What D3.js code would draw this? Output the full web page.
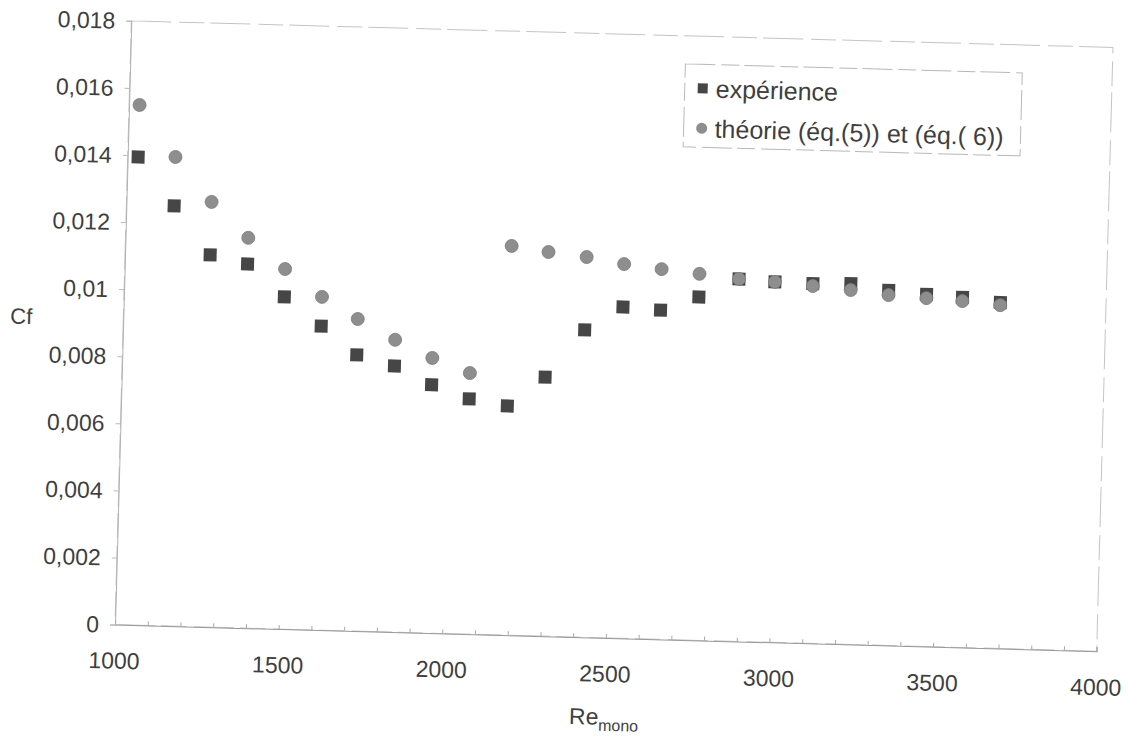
<!DOCTYPE html>
<html>
<head>
<meta charset="utf-8">
<script src="https://cdn.jsdelivr.net/npm/d3@7"></script>
<style>
  body { margin: 0; background: #fff; }
  text { font-family: "Liberation Sans", Arial, sans-serif; fill: #3f3f3f; }
</style>
</head>
<body>
<svg></svg>
<script>
// Re_mono values (x)
var reMono = [1032, 1146, 1260, 1375, 1490, 1605, 1716, 1832, 1947, 2063, 2180, 2293,
              2410, 2525, 2640, 2756, 2877, 2987, 3103, 3219, 3335, 3451, 3561, 3677];
// Cf, experience (squares)
var cfExp = [0.01395, 0.01252, 0.01109, 0.01085, 0.00990, 0.00906, 0.00823, 0.00793,
             0.00740, 0.00701, 0.00683, 0.00772, 0.00916, 0.00987, 0.00981, 0.01023,
             0.01080, 0.01074, 0.01072, 0.01075, 0.01058, 0.01049, 0.01043, 0.01031];
// Cf, theory eq.(5) / eq.(6) (circles)
var cfTheo = [0.01550, 0.01398, 0.01267, 0.01163, 0.01073, 0.00993, 0.00930, 0.00871,
              0.00820, 0.00778, 0.01160, 0.01145, 0.01133, 0.01115, 0.01103, 0.01092,
              0.01080, 0.01074, 0.01065, 0.01056, 0.01044, 0.01038, 0.01032, 0.01023];

var xTicks = [1000, 1500, 2000, 2500, 3000, 3500, 4000];
var yTicks = [0, 0.002, 0.004, 0.006, 0.008, 0.01, 0.012, 0.014, 0.016, 0.018];
var legendLabels = ['expérience', 'théorie (éq.(5)) et (éq.( 6))'];

document.addEventListener("DOMContentLoaded", function() {
    drawChart();
});

function drawChart() {
    var svgWidth = 1134, svgHeight = 741;
    var margin = { top: 34, left: 123 };
    var width = 982, height = 604;

    var svg = d3.select('svg')
        .attr('width', svgWidth)
        .attr('height', svgHeight);

    // the scanned page is slightly tilted
    var page = svg.append('g')
        .attr('transform', 'rotate(1.55, 614, 336)');

    var g = page.append('g')
        .attr('transform', 'translate(' + margin.left + ',' + margin.top + ')');

    var x = d3.scaleLinear().domain([1000, 4000]).range([0, width]);
    var y = d3.scaleLinear().domain([0, 0.018]).range([height, 0]);

    var fr = d3.formatLocale({decimal: ',', thousands: ' ', grouping: [3], currency: ['', '']});
    var fmt = fr.format('.3~f');

    // frame (faint, broken like the scan)
    g.append('rect')
        .attr('width', width).attr('height', height)
        .attr('fill', 'none')
        .attr('stroke', '#c4c4c4')
        .attr('stroke-width', 1)
        .attr('stroke-dasharray', '40,8,25,6');

    // x axis, minor ticks every 100
    var xAxis = g.append('g')
        .attr('transform', 'translate(0,' + height + ')')
        .call(d3.axisBottom(x).tickValues(d3.range(1000, 4001, 100)).tickSize(-4).tickFormat(''));
    xAxis.select('.domain').attr('stroke', '#999');
    xAxis.selectAll('.tick line').attr('stroke', '#aaa');

    g.append('g').selectAll('text')
        .data(xTicks)
        .join('text')
        .attr('x', function(d) { return x(d); })
        .attr('y', height + 44)
        .attr('text-anchor', 'middle')
        .attr('font-size', 23)
        .text(function(d) { return d; });

    // y axis
    var yAxis = g.append('g')
        .call(d3.axisLeft(y).tickValues(yTicks).tickSize(5).tickFormat(''));
    yAxis.select('.domain').attr('stroke', '#b0b0b0');
    yAxis.selectAll('.tick line').attr('stroke', '#bbb');

    g.append('g').selectAll('text')
        .data(yTicks)
        .join('text')
        .attr('x', -16)
        .attr('y', function(d) { return y(d); })
        .attr('dy', '0.36em')
        .attr('text-anchor', 'end')
        .attr('font-size', 23)
        .text(function(d) { return fmt(d); });

    // axis titles
    g.append('text')
        .attr('x', -113)
        .attr('y', y(0.009) - 4)
        .attr('dy', '0.36em')
        .attr('font-size', 22)
        .text('Cf');

    var xt = g.append('text')
        .attr('x', width / 2)
        .attr('y', height + 87)
        .attr('text-anchor', 'middle')
        .attr('font-size', 23);
    xt.append('tspan').text('Re');
    xt.append('tspan').attr('font-size', 16).attr('dy', 6).text('mono');

    // data
    var expData = reMono.map(function(r, i) { return {re: r, cf: cfExp[i]}; });
    var theoData = reMono.map(function(r, i) { return {re: r, cf: cfTheo[i]}; });

    var s = 13;
    g.append('g').selectAll('rect')
        .data(expData)
        .join('rect')
        .attr('x', function(d) { return x(d.re) - s / 2; })
        .attr('y', function(d) { return y(d.cf) - s / 2; })
        .attr('width', s).attr('height', s)
        .attr('fill', '#464646');

    g.append('g').selectAll('circle')
        .data(theoData)
        .join('circle')
        .attr('cx', function(d) { return x(d.re); })
        .attr('cy', function(d) { return y(d.cf); })
        .attr('r', 6.5)
        .attr('fill', '#8e8e8e')
        .attr('stroke', '#7a7a7a')
        .attr('stroke-width', 0.8);

    // legend
    var lg = page.append('g').attr('transform', 'translate(678,62)');
    lg.append('rect')
        .attr('width', 337).attr('height', 83)
        .attr('fill', 'none')
        .attr('stroke', '#b8b8b8')
        .attr('stroke-dasharray', '30,6,18,5');
    lg.append('rect')
        .attr('x', 13).attr('y', 19)
        .attr('width', 10).attr('height', 10)
        .attr('fill', '#464646');
    lg.append('circle')
        .attr('cx', 18).attr('cy', 64)
        .attr('r', 5.5)
        .attr('fill', '#8e8e8e');
    lg.selectAll('text.lbl')
        .data(legendLabels)
        .join('text')
        .attr('class', 'lbl')
        .attr('x', 31)
        .attr('y', function(d, i) { return 24 + i * 40; })
        .attr('dy', '0.36em')
        .attr('font-size', 25)
        .text(function(d) { return d; });
}
</script>
</body>
</html>
